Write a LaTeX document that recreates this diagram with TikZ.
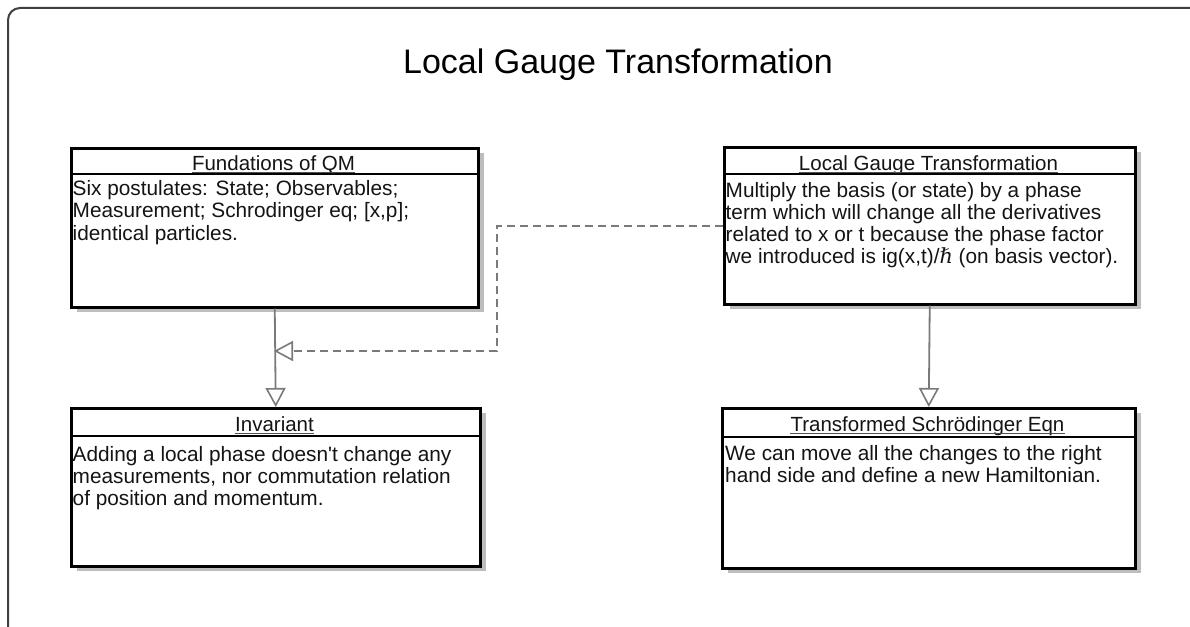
\documentclass[tikz,border=0pt]{standalone}
\usepackage{fontspec}
\setmainfont{Liberation Sans}
\usetikzlibrary{arrows.meta}
\newfontfamily\bodyfont{Liberation Sans}
\newfontfamily\hbarfont{DejaVu Serif}
\definecolor{frameC}{HTML}{404040}
\definecolor{shadowC}{HTML}{BDBDBD}
\definecolor{linkC}{HTML}{7A7A7A}
\definecolor{ulC}{HTML}{505050}
\definecolor{textC}{HTML}{141414}
\tikzset{
  umlbox/.style={draw=black, line width=2.5pt, fill=white, anchor=north west, inner sep=0pt},
  divider/.style={line width=2pt, black},
  headtext/.style={anchor=base, inner sep=0pt, text=textC, font=\bodyfont\fontsize{20.5}{22.3}\selectfont},
  bodytext/.style={anchor=base west, inner sep=0pt, text=textC, font=\bodyfont\fontsize{20.8}{22.3}\selectfont},
  ulineS/.style={ulC, line width=1pt},
  gen/.style={linkC, line width=1.8pt, -{Triangle[length=19pt, width=20pt, fill=white, line width=1.6pt]}},
  dep/.style={gen, dash pattern=on 8pt off 5pt}
}
\begin{document}
\begin{tikzpicture}[x=1pt, y=-1pt]
\useasboundingbox (0,0) rectangle (1190,626);
\clip (0,0) rectangle (1190,626);
% outer frame
\draw[frameC, line width=2pt, rounded corners=12pt] (8,660) -- (8,8) -- (1220,8);
\node[anchor=base, inner sep=0pt, font=\fontsize{34}{40}\selectfont] (title) at (618,74) {Local Gauge Transformation};

% shadows
\fill[shadowC] (77,153) rectangle (484,312);
\fill[shadowC] (730,152) rectangle (1141,309);
\fill[shadowC] (77,413) rectangle (486,571);
\fill[shadowC] (728,413) rectangle (1141,573);

% boxes
\node[umlbox, minimum width=407pt, minimum height=159pt] (fund) at (70,147) {};
\node[umlbox, minimum width=411pt, minimum height=157pt] (lgt) at (723,146) {};
\node[umlbox, minimum width=409pt, minimum height=158pt] (inv) at (70,407) {};
\node[umlbox, minimum width=413pt, minimum height=160pt] (tse) at (721,407) {};

% dividers
\draw[divider] ([yshift=-27pt]fund.north west) -- ([yshift=-27pt]fund.north east);
\draw[divider] ([yshift=-28pt]lgt.north west) -- ([yshift=-28pt]lgt.north east);
\draw[divider] ([yshift=-29pt]inv.north west) -- ([yshift=-29pt]inv.north east);
\draw[divider] ([yshift=-30pt]tse.north west) -- ([yshift=-30pt]tse.north east);

% headers
\node[headtext] (h1) at (273.5,170.5) {Fundations of QM};
\node[headtext] (h2) at (928.5,170.5) {Local Gauge Transformation};
\node[headtext] (h3) at (274.5,431.5) {Invariant};
\node[headtext] (h4) at (927.5,431.5) {Transformed Schrödinger Eqn};
\foreach \h in {h1,h2,h3,h4}
  \draw[ulineS] ([yshift=-2pt]\h.base west) -- ([yshift=-2pt]\h.base east);

% bodies
\node[bodytext] (b1) at (72.5,195.5) {\parbox[t]{400pt}{Six postulates: State; Observables;\\Measurement; Schrodinger eq; [x,p];\\identical particles.}};
\node[bodytext] (b2) at (725.5,197) {\parbox[t]{405pt}{Multiply the basis (or state) by a phase\\term which will change all the derivatives\\related to x or t because the phase factor\\we introduced is ig(x,t)/{\hbarfont\itshape ℏ} (on basis vector).}};
\node[bodytext] (b3) at (72.5,461) {\parbox[t]{400pt}{Adding a local phase doesn't change any\\measurements, nor commutation relation\\of position and momentum.}};
\node[bodytext] (b4) at (725,460) {\parbox[t]{405pt}{We can move all the changes to the right\\hand side and define a new Hamiltonian.}};

% connectors
\draw[gen] (fund.south) -- (inv.north);
\draw[gen] (lgt.south) -- (tse.north);
\coordinate (bend) at (497,351);
\coordinate (meet) at (274,351);
\draw[dep] (lgt.west) -| (bend) -- (meet);
\end{tikzpicture}
\end{document}
